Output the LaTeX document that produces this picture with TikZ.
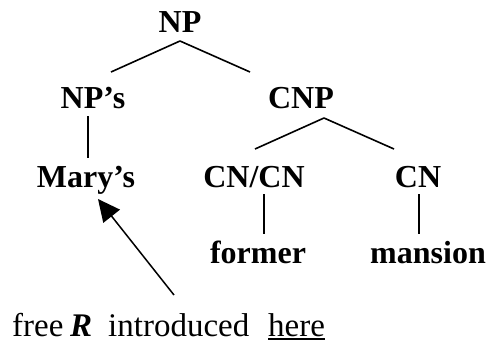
\documentclass[tikz,border=0pt]{standalone}
\usepackage{fontspec}
\setmainfont{Liberation Serif}
\usetikzlibrary{arrows.meta}
\begin{document}
\begin{tikzpicture}[x=1pt,y=-1pt,
  cat/.style={inner sep=0pt,anchor=base,font=\fontsize{32}{36}\selectfont\bfseries},
  gloss/.style={inner sep=0pt,anchor=base west,font=\fontsize{33}{37}\selectfont},
  branch/.style={line width=1.6pt},
  pointer/.style={line width=1.5pt,-{Triangle[length=22pt,width=21pt]}}]
\useasboundingbox (0,0) rectangle (492,343);
% tree labels
\node[cat] (np)     at (180,32)  {NP};
\node[cat] (nps)    at (93,108)  {NP’s};
\node[cat] (cnp)    at (301,108) {CNP};
\node[cat] (mary)   at (86,187)  {Mary’s};
\node[cat] (cncn)   at (254,187) {CN/CN};
\node[cat] (cn)     at (418,187) {CN};
\node[cat] (former) at (258,263) {former};
\node[cat] (mansion) at (428,263) {mansion};
% branches
\draw[branch] ([yshift=-9pt]np.base) -- ([xshift=18pt,yshift=36pt]nps.base);
\draw[branch] ([yshift=-9pt]np.base) -- ([xshift=-51pt,yshift=36pt]cnp.base);
\draw[branch] ([xshift=-5pt,yshift=-8pt]nps.base) -- ([xshift=2pt,yshift=29pt]mary.base);
\draw[branch] ([xshift=23pt,yshift=-10pt]cnp.base) -- ([xshift=1pt,yshift=38pt]cncn.base);
\draw[branch] ([xshift=23pt,yshift=-10pt]cnp.base) -- ([xshift=-24pt,yshift=38pt]cn.base);
\draw[branch] ([xshift=10pt,yshift=-7pt]cncn.base) -- ([xshift=6pt,yshift=29pt]former.base);
\draw[branch] ([xshift=1pt,yshift=-7pt]cn.base) -- ([xshift=-9pt,yshift=29pt]mansion.base);
% annotation line
\node[gloss] (free)  at (12,336)  {free};
\node[gloss] (rvar)  at (70,336)  {\bfseries\itshape R};
\node[gloss] (intro) at (108,336) {introduced};
\node[gloss] (here)  at (268,336) {here};
\draw[line width=1.2pt] ([yshift=-3pt]here.base west) -- ([yshift=-3pt]here.base east);
\coordinate (tail) at (174,295);
\draw[pointer] (tail) -- ([xshift=12pt,yshift=-12pt]mary.base);
\end{tikzpicture}
\end{document}
